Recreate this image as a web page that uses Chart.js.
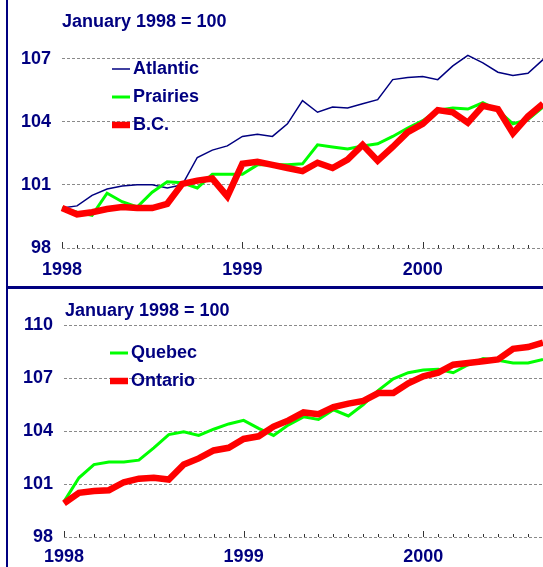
<!DOCTYPE html>
<html>
<head>
<meta charset="utf-8">
<script src="https://cdn.jsdelivr.net/npm/chart.js@4.4.1/dist/chart.umd.min.js"></script>
<style>
  body { margin: 0; background: #fff; }
  #wrap { position: relative; width: 543px; height: 567px; overflow: hidden; }
  canvas { position: absolute; left: 0; }
  #topChart { top: 0; }
  #bottomChart { top: 289px; }
  .vline { position: absolute; left: 6px; top: 0; width: 2px; height: 567px; background: #000080; }
  .hline { position: absolute; left: 6px; top: 286px; width: 537px; height: 3px; background: #000080; }
</style>
</head>
<body>
<div id="wrap">
  <canvas id="topChart" width="543" height="286"></canvas>
  <canvas id="bottomChart" width="543" height="278"></canvas>
  <div class="vline"></div>
  <div class="hline"></div>
</div>
<script>
// monthly, Jan 1998 .. Sep 2000
const months = [
  'Jan 1998','Feb 1998','Mar 1998','Apr 1998','May 1998','Jun 1998','Jul 1998','Aug 1998','Sep 1998','Oct 1998','Nov 1998','Dec 1998',
  'Jan 1999','Feb 1999','Mar 1999','Apr 1999','May 1999','Jun 1999','Jul 1999','Aug 1999','Sep 1999','Oct 1999','Nov 1999','Dec 1999',
  'Jan 2000','Feb 2000','Mar 2000','Apr 2000','May 2000','Jun 2000','Jul 2000','Aug 2000','Sep 2000'
];
const yearLabels = ['1998', '1999', '2000'];

const atlantic = [99.9, 100.0, 100.5, 100.8, 100.95, 101.0, 101.0, 100.85, 101.0, 102.3, 102.65, 102.85,
  103.3, 103.4, 103.3, 103.9, 105.0, 104.45, 104.7, 104.65, 104.85, 105.05, 106.0, 106.1,
  106.15, 106.0, 106.65, 107.15, 106.8, 106.35, 106.2, 106.3, 106.95];
const prairies = [99.9, 99.7, 99.55, 100.6, 100.2, 99.95, 100.65, 101.15, 101.1, 100.85, 101.5, 101.5,
  101.5, 101.95, 101.95, 101.95, 102.0, 102.9, 102.8, 102.7, 102.85, 102.95, 103.3, 103.7,
  104.05, 104.55, 104.65, 104.6, 104.9, 104.55, 103.9, 104.1, 104.7];
const bc = [99.9, 99.6, 99.7, 99.85, 99.95, 99.9, 99.9, 100.1, 101.05, 101.2, 101.3, 100.45,
  102.0, 102.1, 101.95, 101.8, 101.65, 102.05, 101.8, 102.2, 102.9, 102.15, 102.8, 103.5,
  103.9, 104.55, 104.45, 103.95, 104.75, 104.6, 103.45, 104.25, 104.85];

const quebec = [100.0, 101.35, 102.1, 102.25, 102.25, 102.35, 103.05, 103.8, 103.95, 103.75, 104.1, 104.4,
  104.6, 104.15, 103.75, 104.35, 104.8, 104.65, 105.2, 104.85, 105.5, 106.3, 106.95, 107.3,
  107.45, 107.5, 107.3, 107.75, 108.1, 108.0, 107.85, 107.85, 108.05];
const ontario = [99.9, 100.5, 100.6, 100.65, 101.1, 101.3, 101.35, 101.25, 102.1, 102.45, 102.9, 103.05,
  103.55, 103.7, 104.25, 104.6, 105.05, 104.95, 105.35, 105.55, 105.7, 106.15, 106.15, 106.7,
  107.1, 107.3, 107.75, 107.85, 107.95, 108.05, 108.65, 108.75, 109.0];

const topTicks = [98, 101, 104, 107];
const bottomTicks = [98, 101, 104, 107, 110];

const NAVY = '#000080';
const FONT = "'Liberation Sans', Arial, sans-serif";

// title, legend and the little month ticks on the 98 line
const panelDecor = {
  id: 'panelDecor',
  afterDraw(chart, args, opts) {
    const ctx = chart.ctx;
    const xs = chart.scales.x, ys = chart.scales.y;
    const base = ys.getPixelForValue(ys.min);
    ctx.save();
    ctx.strokeStyle = '#333';
    ctx.lineWidth = 1;
    months.forEach((m, i) => {
      const x = Math.round(xs.getPixelForValue(i)) + 0.5;
      const len = m.startsWith('Jan') ? 6 : 3;
      ctx.beginPath();
      ctx.moveTo(x, base);
      ctx.lineTo(x, base - len);
      ctx.stroke();
    });

    ctx.fillStyle = NAVY;
    ctx.font = 'bold 18px ' + FONT;
    ctx.textBaseline = 'middle';
    ctx.textAlign = 'left';
    ctx.fillText(opts.title, opts.titleX, opts.titleY);

    chart.data.datasets.forEach((ds, i) => {
      const y = opts.legendY + i * 28;
      ctx.strokeStyle = ds.borderColor;
      ctx.lineWidth = ds.borderWidth;
      ctx.beginPath();
      ctx.moveTo(opts.legendX, y);
      ctx.lineTo(opts.legendX + 18, y);
      ctx.stroke();
      ctx.fillStyle = NAVY;
      ctx.fillText(ds.label, opts.legendX + 21, y);
    });
    ctx.restore();
  }
};

function makePanel(id, datasets, yMin, yMax, yTicks, geo) {
  new Chart(document.getElementById(id), {
    type: 'line',
    data: { labels: months, datasets: datasets },
    plugins: [panelDecor],
    options: {
      responsive: false,
      animation: false,
      layout: { padding: { top: geo.top, left: 0, right: 0, bottom: 0 } },
      elements: { point: { radius: 0 }, line: { tension: 0 } },
      scales: {
        x: {
          grid: { display: false },
          border: { display: false },
          afterFit: s => { s.height = geo.xHeight; s.paddingLeft = 0; s.paddingRight = 0; },
          ticks: {
            autoSkip: false,
            maxRotation: 0,
            padding: geo.xPad,
            color: NAVY,
            font: { family: FONT, size: 18, weight: 'bold' },
            callback: (v, i) => months[i].startsWith('Jan') ? yearLabels[Math.floor(i / 12)] : ''
          }
        },
        y: {
          min: yMin,
          max: yMax,
          afterBuildTicks: s => { s.ticks = yTicks.map(v => ({ value: v })); },
          afterFit: s => { s.width = geo.yWidth; },
          grid: { color: '#8a8a8a', lineWidth: 1, drawTicks: false },
          border: { display: false, dash: [3, 2] },
          ticks: {
            padding: 11,
            color: NAVY,
            font: { family: FONT, size: 18, weight: 'bold' }
          }
        }
      },
      plugins: {
        legend: { display: false },
        tooltip: { enabled: false },
        panelDecor: geo.decor
      }
    }
  });
}

makePanel('topChart', [
  { label: 'Atlantic', data: atlantic, borderColor: NAVY, borderWidth: 1.5, order: 2 },
  { label: 'Prairies', data: prairies, borderColor: '#00ff00', borderWidth: 3, order: 1 },
  { label: 'B.C.', data: bc, borderColor: '#ff0000', borderWidth: 6.5, order: 0 }
], 98, 108.5, topTicks, {
  top: 27, xHeight: 38, yWidth: 62, xPad: 3,
  decor: { title: 'January 1998 = 100', titleX: 62, titleY: 22, legendX: 112, legendY: 69 }
});

makePanel('bottomChart', [
  { label: 'Quebec', data: quebec, borderColor: '#00ff00', borderWidth: 3, order: 1 },
  { label: 'Ontario', data: ontario, borderColor: '#ff0000', borderWidth: 6.5, order: 0 }
], 98, 110, bottomTicks, {
  top: 36, xHeight: 30, yWidth: 64, xPad: 1,
  decor: { title: 'January 1998 = 100', titleX: 65, titleY: 22, legendX: 110, legendY: 64 }
});
</script>
</body>
</html>
